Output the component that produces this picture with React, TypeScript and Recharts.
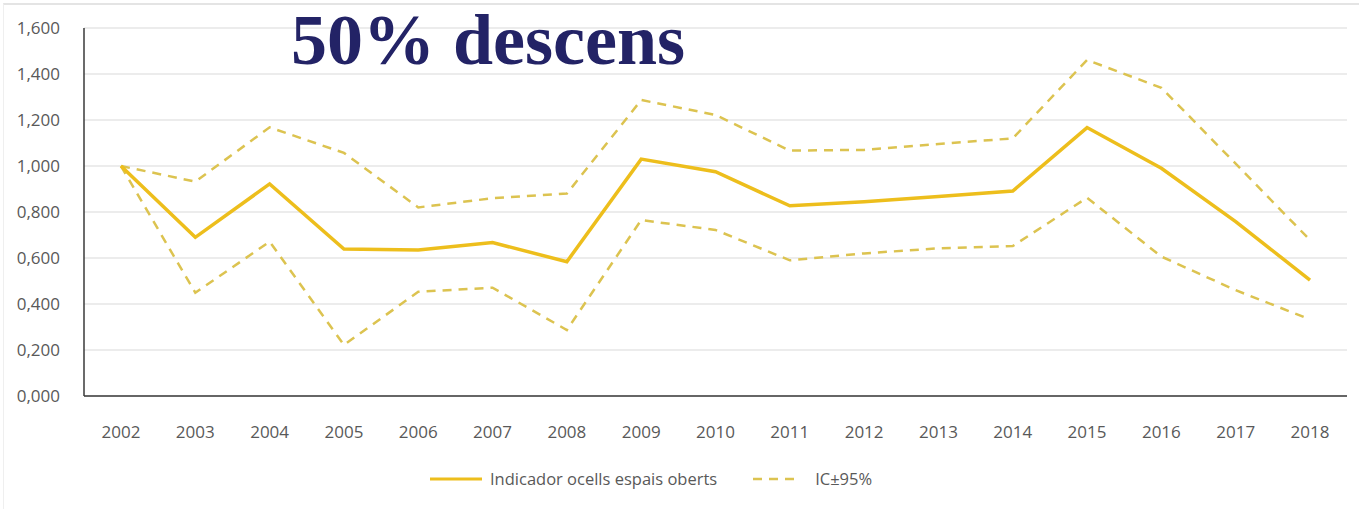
import { CartesianGrid, Line, LineChart, XAxis, YAxis } from "recharts";

const years = [
  "2002", "2003", "2004", "2005", "2006", "2007", "2008", "2009", "2010",
  "2011", "2012", "2013", "2014", "2015", "2016", "2017", "2018",
];
const indicator = [
  1.0, 0.69, 0.922, 0.639, 0.635, 0.667, 0.584, 1.03, 0.975, 0.827, 0.845, 0.867, 0.891, 1.167, 0.99, 0.758, 0.504,
];
const upperCI = [
  1.0, 0.932, 1.168, 1.057, 0.82, 0.86, 0.88, 1.287, 1.222, 1.067, 1.07, 1.096, 1.12, 1.461, 1.34, 1.01, 0.678,
];
const lowerCI = [
  1.0, 0.449, 0.671, 0.222, 0.453, 0.471, 0.287, 0.765, 0.722, 0.59, 0.62, 0.642, 0.652, 0.862, 0.606, 0.46, 0.333,
];
const yTicks = [0, 0.2, 0.4, 0.6, 0.8, 1.0, 1.2, 1.4, 1.6];

const data = years.map((year, i) => ({
  year,
  indicator: indicator[i],
  upper: upperCI[i],
  lower: lowerCI[i],
}));

const MAIN = "#EDBE1C";
const DASH = "#DCC350";
const TEXT = "#595959";
const FONT = "'Open Sans', sans-serif";

// legend sits below the plot, kept out of recharts so it doesn't eat plot height
function ChartLegend() {
  return (
    <div
      style={{
        position: "absolute",
        top: 467,
        left: 430,
        display: "flex",
        alignItems: "center",
        fontFamily: FONT,
        fontSize: 16.5,
        color: TEXT,
        whiteSpace: "nowrap",
      }}
    >
      <svg width={52} height={10}>
        <line x1={0} y1={5} x2={52} y2={5} stroke={MAIN} strokeWidth={3} />
      </svg>
      <span style={{ marginLeft: 8 }}>Indicador ocells espais oberts</span>
      <svg width={42} height={10} style={{ marginLeft: 36 }}>
        <line x1={0} y1={5} x2={42} y2={5} stroke={DASH} strokeWidth={2.5} strokeDasharray="9 7" />
      </svg>
      <span style={{ marginLeft: 20 }}>IC±95%</span>
    </div>
  );
}

export default function App() {
  return (
    <div style={{ position: "absolute", top: 0, left: 0, width: 1359, height: 509, background: "#fff" }}>
      <div
        style={{
          position: "absolute",
          top: 3,
          left: 3,
          right: 0,
          bottom: 0,
          borderTop: "2px solid #e4e4e4",
          borderLeft: "1px solid #efefef",
        }}
      />
      <LineChart width={1359} height={509} data={data} margin={{ top: 28, right: 12, left: 0, bottom: 83 }}>
        <CartesianGrid vertical={false} stroke="#d9d9d9" strokeWidth={1.2} />
        <XAxis
          dataKey="year"
          height={30}
          padding={{ left: 37, right: 37 }}
          axisLine={{ stroke: "#3a3a3a", strokeWidth: 1.5 }}
          tickLine={false}
          tickMargin={24}
          tick={{ fill: TEXT, fontSize: 17, fontFamily: FONT }}
          interval={0}
        />
        <YAxis
          width={84}
          domain={[0, 1.6]}
          ticks={yTicks}
          axisLine={{ stroke: "#3a3a3a", strokeWidth: 1.5 }}
          tickLine={false}
          tickMargin={18}
          tick={{ fill: TEXT, fontSize: 17, fontFamily: FONT }}
          tickFormatter={(v: number) => v.toFixed(3).replace(".", ",")}
        />
        <Line dataKey="upper" stroke={DASH} strokeWidth={2.5} strokeDasharray="9 7" dot={false} isAnimationActive={false} />
        <Line dataKey="lower" stroke={DASH} strokeWidth={2.5} strokeDasharray="9 7" dot={false} isAnimationActive={false} />
        <Line dataKey="indicator" stroke={MAIN} strokeWidth={3.5} dot={false} isAnimationActive={false} />
      </LineChart>
      <ChartLegend />
      <div
        style={{
          position: "absolute",
          left: 291,
          top: 4,
          fontFamily: "'Liberation Serif', serif",
          fontWeight: "bold",
          fontSize: 72,
          lineHeight: "72px",
          color: "#232366",
        }}
      >
        50% descens
      </div>
    </div>
  );
}
